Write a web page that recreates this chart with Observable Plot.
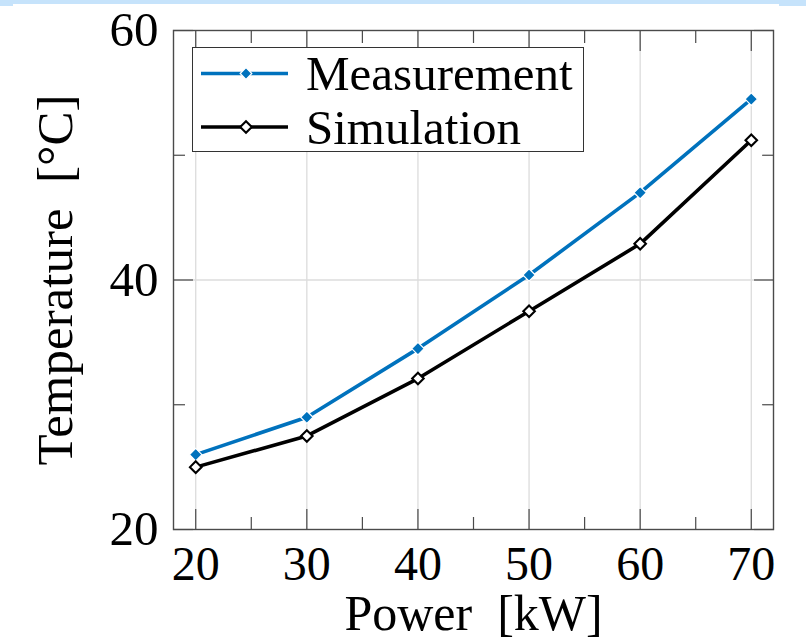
<!DOCTYPE html>
<html>
<head>
<meta charset="utf-8">
<script src="https://cdn.jsdelivr.net/npm/d3@7"></script>
<script src="https://cdn.jsdelivr.net/npm/@observablehq/plot@0.6"></script>
<style>
  html, body { margin: 0; padding: 0; background: #fff; }
  #wrap { position: relative; width: 806px; height: 641px; overflow: hidden; background: #fff; }
  #wrap > svg { position: absolute; left: 0; top: 0; }
  #wrap > svg text { font-family: 'Liberation Serif', 'Times New Roman', serif; font-variant-numeric: normal; }
  .band { position: absolute; background: #c6e3fb; }
  #legend { position: absolute; box-sizing: border-box; background: #fff; border: 1.3px solid #333; }
  #legend svg { display: block; overflow: visible; }
</style>
</head>
<body>
<div id="wrap">
  <div class="band" style="left:0;top:0;width:806px;height:4px"></div>
  <div class="band" style="left:0;top:0;width:13px;height:6px"></div>
  <div class="band" style="left:779px;top:0;width:27px;height:6px"></div>
</div>
<script>
// ---- data ----
const power = [20, 30, 40, 50, 60, 70];
const measurement = [26.0, 29.0, 34.5, 40.4, 47.0, 54.5];
const simulation = [25.0, 27.5, 32.1, 37.5, 42.9, 51.2];
const seriesNames = ["Measurement", "Simulation"];
const seriesColors = ["#0072BD", "#000000"];
const xMajorTicks = [20, 30, 40, 50, 60, 70];
const xMinorTicks = [25, 35, 45, 55, 65];
const yMajorTicks = [20, 40, 60];
const yMinorTicks = [30, 50];
const xLabel = "Power\u2002[kW]";
const yLabel = "Temperature\u2002[°C]";

const rows = power.flatMap((p, i) => [
  {power: p, temp: measurement[i], series: seriesNames[0]},
  {power: p, temp: simulation[i], series: seriesNames[1]}
]);
const measRows = rows.filter(d => d.series === seriesNames[0]);
const simRows = rows.filter(d => d.series === seriesNames[1]);

const FONT = "'Liberation Serif', 'Times New Roman', serif";
const TICK = "#4a4a4a";

const tickAxisX = (ticks, anchor, size) => Plot.axisX(ticks, {anchor, tickSize: -size, tickFormat: () => "", label: null, stroke: TICK, strokeWidth: 1.2});
const tickAxisY = (ticks, anchor, size) => Plot.axisY(ticks, {anchor, tickSize: -size, tickFormat: () => "", label: null, stroke: TICK, strokeWidth: 1.2});

const chart = Plot.plot({
  width: 806,
  height: 641,
  marginLeft: 173,
  marginRight: 33,
  marginTop: 30,
  marginBottom: 112,
  style: {fontFamily: FONT, background: "transparent", color: "#000", overflow: "visible"},
  x: {domain: [18, 72]},
  y: {domain: [20, 60]},
  color: {domain: seriesNames, range: seriesColors},
  marks: [
    Plot.gridX(xMajorTicks, {stroke: "#dcdcdc", strokeOpacity: 1, strokeWidth: 1.3}),
    Plot.gridY([40], {stroke: "#dcdcdc", strokeOpacity: 1, strokeWidth: 1.3}),
    tickAxisX(xMajorTicks, "bottom", 20),
    tickAxisX(xMajorTicks, "top", 20),
    tickAxisX(xMinorTicks, "bottom", 12),
    tickAxisX(xMinorTicks, "top", 12),
    tickAxisY(yMajorTicks, "left", 20),
    tickAxisY(yMajorTicks, "right", 20),
    tickAxisY(yMinorTicks, "left", 12),
    tickAxisY(yMinorTicks, "right", 12),
    // tick labels
    Plot.axisX(xMajorTicks, {anchor: "bottom", tickSize: 0, tickPadding: 16, fontSize: 48, fontFamily: FONT, label: null}),
    Plot.axisY(yMajorTicks, {anchor: "left", tickSize: 0, tickPadding: 15, fontSize: 49, fontFamily: FONT, label: null}),
    // axis titles
    Plot.axisX(xMajorTicks, {anchor: "bottom", tickSize: 0, tickFormat: () => "", fontSize: 50, fontFamily: FONT, label: xLabel, labelAnchor: "center", labelOffset: 100, labelArrow: "none"}),
    Plot.axisY(yMajorTicks, {anchor: "left", tickSize: 0, tickFormat: () => "", fontSize: 51, fontFamily: FONT, label: yLabel, labelAnchor: "center", labelOffset: 138, labelArrow: "none"}),
    Plot.line(rows, {x: "power", y: "temp", z: "series", stroke: "series", strokeWidth: 3.6, strokeLinejoin: "round"}),
    Plot.dot(measRows, {x: "power", y: "temp", symbol: "diamond2", r: 5.6, fill: seriesColors[0], stroke: "white", strokeWidth: 1.2}),
    Plot.dot(simRows, {x: "power", y: "temp", symbol: "diamond2", r: 5.2, fill: "white", stroke: "black", strokeWidth: 2.1}),
    Plot.frame({stroke: TICK, strokeWidth: 1.4})
  ]
});
const wrap = document.getElementById("wrap");
wrap.insertBefore(chart, wrap.firstChild);

// ---- legend (HTML overlay inside the plot area) ----
const legend = document.createElement("div");
legend.id = "legend";
Object.assign(legend.style, {left: "192px", top: "47px", width: "392px", height: "105px"});
const ns = "http://www.w3.org/2000/svg";
const lsvg = document.createElementNS(ns, "svg");
lsvg.setAttribute("width", 389);
lsvg.setAttribute("height", 102);
const rowsY = [25.5, 79];
seriesNames.forEach((name, i) => {
  const y = rowsY[i];
  const line = document.createElementNS(ns, "line");
  line.setAttribute("x1", 8); line.setAttribute("x2", 95);
  line.setAttribute("y1", y); line.setAttribute("y2", y);
  line.setAttribute("stroke", seriesColors[i]);
  line.setAttribute("stroke-width", 3.6);
  lsvg.appendChild(line);
  const s = 5.8;
  const mk = document.createElementNS(ns, "path");
  mk.setAttribute("d", `M${53 - s},${y}L53,${y - s}L${53 + s},${y}L53,${y + s}Z`);
  if (i === 0) { mk.setAttribute("fill", seriesColors[0]); mk.setAttribute("stroke", "white"); mk.setAttribute("stroke-width", 1.2); }
  else { mk.setAttribute("fill", "white"); mk.setAttribute("stroke", "black"); mk.setAttribute("stroke-width", 2.1); }
  lsvg.appendChild(mk);
  const t = document.createElementNS(ns, "text");
  t.setAttribute("x", 113);
  t.setAttribute("y", y + 16.5);
  t.setAttribute("font-family", FONT);
  t.setAttribute("font-size", 49);
  t.textContent = name;
  lsvg.appendChild(t);
});
legend.appendChild(lsvg);
wrap.appendChild(legend);
</script>
</body>
</html>
